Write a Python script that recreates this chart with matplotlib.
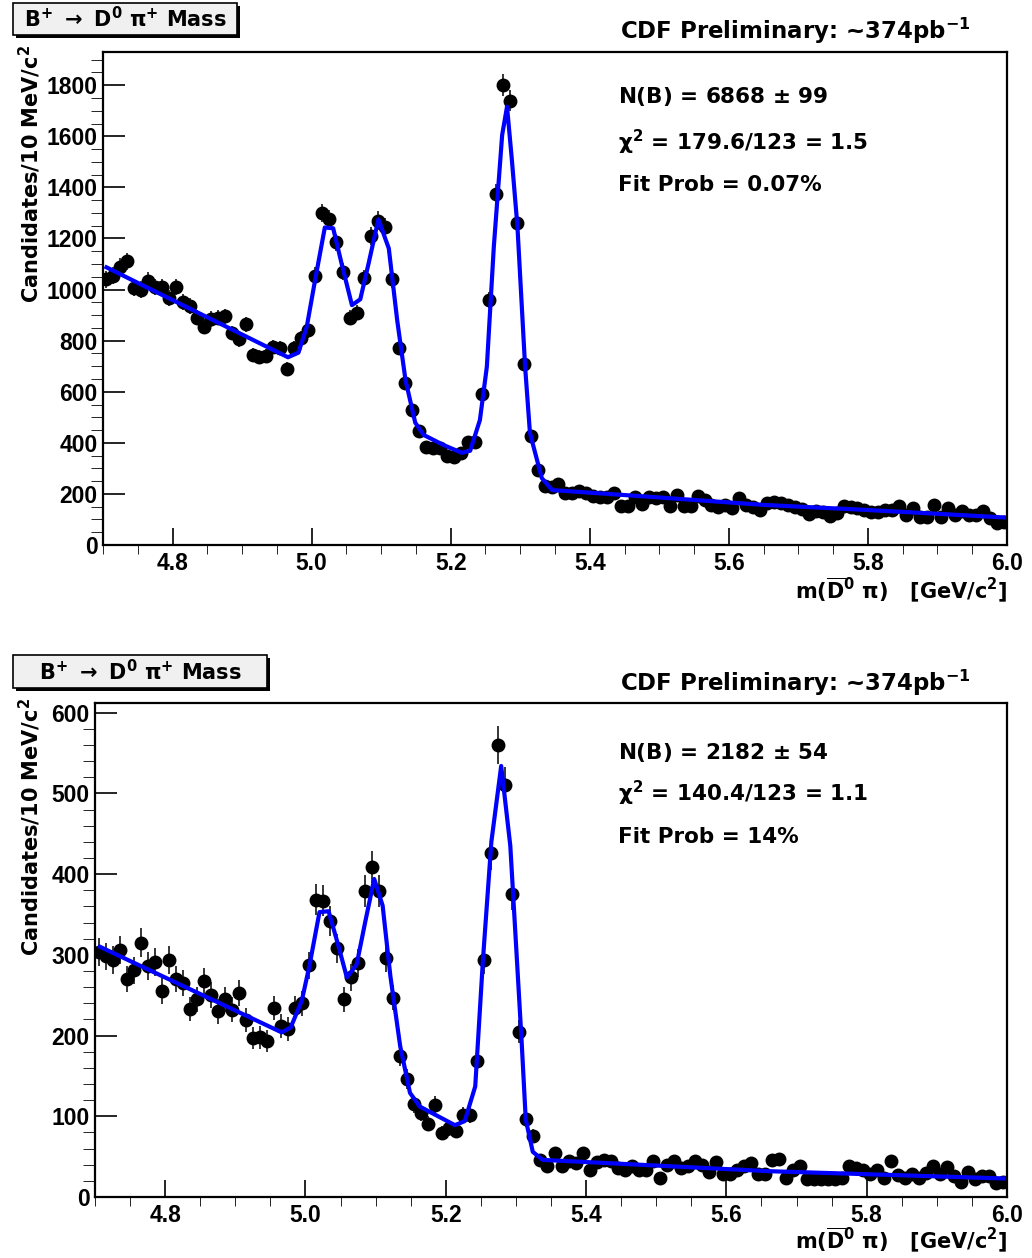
import numpy as np
import matplotlib.pyplot as plt
from matplotlib.patches import Rectangle

plt.rcParams['font.family'] = ['DejaVu Sans']
plt.rcParams['font.weight'] = 'bold'
plt.rcParams['mathtext.fontset'] = 'dejavusans'
plt.rcParams['mathtext.default'] = 'regular'

# histogram binning: 10 MeV bins, 4.7 - 6.0 GeV
m_lo, m_hi, nbins = 4.7, 6.0, 130
centres = m_lo + (np.arange(nbins) + 0.5) * (m_hi - m_lo) / nbins

# candidates per bin
top_counts = [1040, 1055, 1090, 1110, 1005, 1000, 1035, 1010, 1010, 967,
              1010, 950, 935, 890, 855, 885, 890, 895, 830, 805,
              865, 745, 735, 740, 775, 770, 690, 770, 810, 840,
              1055, 1300, 1275, 1185, 1070, 890, 910, 1045, 1210, 1270,
              1245, 1040, 770, 635, 530, 445, 385, 380, 380, 350,
              345, 360, 405, 405, 590, 960, 1375, 1800, 1740, 1260,
              710, 425, 295, 231, 228, 237, 202, 205, 213, 202,
              192, 189, 187, 205, 153, 153, 189, 160, 189, 183,
              189, 153, 196, 153, 153, 192, 176, 157, 150, 157,
              144, 183, 157, 150, 137, 165, 170, 163, 157, 150,
              140, 121, 134, 130, 113, 126, 153, 150, 144, 137,
              130, 130, 137, 137, 153, 117, 144, 111, 111, 157,
              111, 144, 117, 134, 117, 117, 134, 104, 85, 91]

bot_counts = [303, 298, 294, 306, 270, 281, 315, 286, 291, 255,
              294, 270, 265, 233, 245, 267, 250, 230, 245, 232,
              253, 219, 197, 198, 193, 234, 212, 208, 234, 240,
              287, 368, 367, 342, 308, 245, 272, 290, 379, 409,
              379, 296, 247, 175, 146, 115, 104, 91, 114, 79,
              85, 82, 102, 102, 169, 294, 426, 560, 510, 375,
              205, 97, 75, 46, 38, 54, 38, 45, 42, 55,
              33, 43, 46, 44, 36, 34, 38, 33, 33, 44,
              24, 40, 44, 36, 38, 45, 40, 31, 43, 29,
              29, 34, 38, 42, 29, 29, 46, 47, 24, 33,
              38, 22, 22, 22, 22, 22, 24, 38, 36, 34,
              29, 34, 24, 45, 27, 23, 29, 23, 30, 38,
              29, 37, 26, 19, 31, 22, 26, 26, 17, 18]

# fitted curves (vertices of the drawn polyline)
top_fit_m = [4.705, 4.966, 4.981, 4.993, 5.005, 5.019, 5.031, 5.043, 5.058, 5.070,
             5.082, 5.096, 5.111, 5.123, 5.135, 5.149, 5.161, 5.190, 5.216, 5.228,
             5.242, 5.252, 5.262, 5.274, 5.281, 5.288, 5.296, 5.307, 5.314, 5.331,
             5.346, 5.49, 5.65, 5.8, 5.995]
top_fit_n = [1087, 735, 753, 854, 1037, 1243, 1240, 1103, 939, 962,
             1103, 1275, 1161, 881, 646, 479, 431, 391, 361, 369,
             489, 698, 1167, 1605, 1716, 1507, 1246, 698, 438, 262,
             215, 188, 157, 137, 108]

bot_fit_m = [4.707, 4.966, 4.979, 4.995, 5.006, 5.020, 5.033, 5.047, 5.059, 5.073,
             5.085, 5.098, 5.110, 5.121, 5.135, 5.149, 5.163, 5.213, 5.227, 5.242,
             5.253, 5.265, 5.279, 5.292, 5.308, 5.314, 5.324, 5.338, 5.66, 5.995]
bot_fit_n = [310, 204, 210, 244, 288, 353, 354, 311, 272, 288,
             340, 394, 361, 274, 187, 129, 112, 89, 94, 137,
             294, 440, 534, 435, 195, 96, 56, 46, 32, 23]

panels = [
    dict(counts=top_counts, fit_m=top_fit_m, fit_n=top_fit_n, ymax=1930,
         major=200, minor=50, rect=(103, 52, 1007, 545),
         box=(13, 3, 237, 35), cdf_y=31,
         lines=[r"N(B) = 6868 $\pm$ 99", r"$\chi^{\mathbf{2}}$ = 179.6/123 = 1.5", "Fit Prob = 0.07%"],
         lines_y=[97, 142, 185], ylab_top=45, xlab_y=590),
    dict(counts=bot_counts, fit_m=bot_fit_m, fit_n=bot_fit_n, ymax=612,
         major=100, minor=20, rect=(95, 703, 1007, 1197),
         box=(13, 655, 267, 688), cdf_y=683,
         lines=[r"N(B) = 2182 $\pm$ 54", r"$\chi^{\mathbf{2}}$ = 140.4/123 = 1.1", "Fit Prob = 14%"],
         lines_y=[753, 793, 837], ylab_top=698, xlab_y=1240),
]

W, H = 1032, 1258
fig = plt.figure(figsize=(W / 100, H / 100), dpi=100)


def fx(x):
    return x / W


def fy(y):
    return 1 - y / H


for p in panels:
    x0, y0, x1, y1 = p['rect']
    ax = fig.add_axes([fx(x0), fy(y1), (x1 - x0) / W, (y1 - y0) / H])
    counts = np.array(p['counts'], dtype=float)
    ax.errorbar(centres, counts, yerr=np.sqrt(counts), fmt='o', color='black',
                ms=9, elinewidth=1.1, capsize=0, zorder=2)
    ax.plot(p['fit_m'], p['fit_n'], color='#0000ff', lw=3, zorder=3)

    ax.set_xlim(m_lo, m_hi)
    ax.set_ylim(0, p['ymax'])
    ax.set_xticks(np.arange(4.8, 6.01, 0.2))
    ax.set_xticks(np.arange(4.7, 6.0, 0.05), minor=True)
    ax.set_xticklabels(['4.8', '5.0', '5.2', '5.4', '5.6', '5.8', '6.0'])
    ax.set_yticks(np.arange(0, p['ymax'], p['major']))
    ax.set_yticks(np.arange(0, p['ymax'], p['minor']), minor=True)
    ax.tick_params(direction='in', top=False, right=False, width=1.2,
                   labelsize=16.5, labelfontfamily='Liberation Sans')
    ax.tick_params(axis='x', which='major', length=12, pad=5)
    ax.tick_params(axis='x', which='minor', length=6.5)
    ax.tick_params(axis='y', which='major', length=16, pad=4)
    ax.tick_params(axis='y', which='minor', length=8.5)
    for lbl in ax.get_xticklabels() + ax.get_yticklabels():
        lbl.set_fontweight('bold')
    for s in ax.spines.values():
        s.set_linewidth(1.6)

    # title pave with shadow
    bx0, by0, bx1, by1 = p['box']
    fig.add_artist(Rectangle((fx(bx0 + 3), fy(by1 + 3)), (bx1 - bx0) / W, (by1 - by0) / H,
                             transform=fig.transFigure, fc='black', ec='none'))
    fig.add_artist(Rectangle((fx(bx0), fy(by1)), (bx1 - bx0) / W, (by1 - by0) / H,
                             transform=fig.transFigure, fc='#f0f0f0', ec='black', lw=1.2))
    fig.text(fx((bx0 + bx1) / 2), fy((by0 + by1) / 2),
             r"B$^{\mathbf{+}}$ $\rightarrow$ D$^{\mathbf{0}}$ $\pi^{\mathbf{+}}$ Mass",
             ha='center', va='center', fontsize=15)

    fig.text(fx(620), fy(p['cdf_y']), r"CDF Preliminary: ~374pb$^{\mathbf{-1}}$",
             ha='left', va='center', fontsize=16.5)
    for s, yy in zip(p['lines'], p['lines_y']):
        fig.text(fx(618), fy(yy), s, ha='left', va='center', fontsize=15.5)

    fig.text(fx(30), fy(p['ylab_top']), r"Candidates/10 MeV/c$^{\mathbf{2}}$",
             rotation=90, ha='center', va='top', fontsize=15)
    fig.text(fx(1007), fy(p['xlab_y']),
             r"m($\overline{\mathbf{D}}^{\mathbf{0}}$ $\pi$)   [GeV/c$^{\mathbf{2}}$]",
             ha='right', va='center', fontsize=15)

fig.savefig('out.png', dpi=100)
